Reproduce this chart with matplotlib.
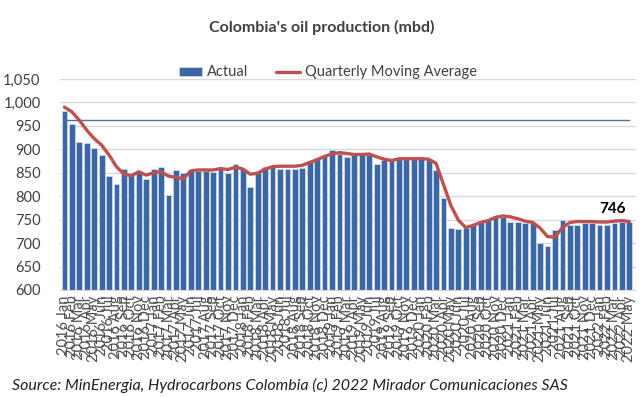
import matplotlib
matplotlib.use("Agg")
import matplotlib.pyplot as plt
from matplotlib.ticker import FuncFormatter

years = [2016, 2017, 2018, 2019, 2020, 2021, 2022]
month_names = ["Jan", "Feb", "Mar", "Apr", "May", "Jun", "Jul", "Aug", "Sep", "Oct", "Nov", "Dec"]
months = [f"{y} {m}" for y in years for m in month_names][:77]

actual = [982, 954, 915, 913, 903, 888, 843, 825, 858, 847, 851, 836,
          859, 862, 802, 855, 849, 856, 854, 853, 852, 861, 849, 869,
          857, 820, 854, 863, 863, 858, 859, 859, 861, 876, 881, 888,
          898, 891, 883, 888, 893, 888, 869, 877, 876, 879, 879, 879,
          879, 879, 856, 797, 732, 730, 732, 738, 748, 749, 758, 755,
          744, 744, 742, 742, 701, 693, 728, 749, 739, 739, 742, 742,
          739, 739, 742, 746, 744]

moving_avg = [990, 980, 962, 941, 923, 909, 888, 863, 847, 844, 852, 845,
              850, 852, 843, 840, 837, 854, 856, 856, 856, 859, 857, 862,
              858, 847, 849, 858, 863, 864, 864, 864, 866, 872, 878, 885,
              890, 893, 891, 889, 889, 890, 884, 879, 876, 880, 880, 880,
              880, 879, 870, 825, 780, 749, 733, 738, 744, 748, 755, 758,
              756, 752, 747, 744, 732, 714, 713, 733, 744, 746, 746, 746,
              745, 745, 747, 748, 746]

reference_level = 962
last_label = "746"

plt.rcParams['font.family'] = ['Lato', 'DejaVu Sans']

fig = plt.figure(figsize=(6.44, 3.97), dpi=100)
ax = fig.add_axes([60/644, 1 - 290/397, 576/644, 211/397])

x = list(range(len(actual)))
bar_color = "#3d67a2"
line_color = "#c0504d"

bars = ax.bar(x, [v - 600 for v in actual], bottom=600, width=0.78, color=bar_color,
              edgecolor="#c9d8ec", linewidth=0.6, label="Actual", zorder=2)
ax.plot(x, [reference_level] * len(x), color="#4a6fa5", linewidth=1.0, zorder=3)
line, = ax.plot(x, moving_avg, color=line_color, linewidth=2.4, label="Quarterly Moving Average",
                zorder=4, solid_capstyle="round")

ax.annotate(last_label, (x[-1], moving_avg[-1]), xytext=(-12, 4), textcoords="offset points",
            ha="center", va="bottom", fontsize=11, fontweight="bold", color="black")

ax.set_ylim(600, 1050)
ax.set_xlim(-0.6, 76.9)
ax.set_yticks(range(600, 1051, 50))
ax.yaxis.set_major_formatter(FuncFormatter(lambda v, p: f"{int(v):,}"))
ax.grid(axis="y", color="#d9d9d9", linewidth=1.0, zorder=0)
ax.set_axisbelow(True)
for s in ["left", "right", "top"]:
    ax.spines[s].set_visible(False)
ax.spines["bottom"].set_color("#d9d9d9")
ax.tick_params(axis="y", length=0, pad=14, labelsize=10.5, labelcolor="#404040")
ax.set_xticks(x)
ax.set_xticklabels(months, rotation=90, fontsize=10.5, color="#505050")
ax.tick_params(axis="x", length=0, pad=4)

fig.text(0.5, 1 - 27/397, "Colombia's oil production (mbd)", ha="center", va="center",
         fontsize=11.5, fontweight="bold", color="#404040")

ax.legend(handles=[bars, line], loc="lower center", bbox_to_anchor=(0.465, 0.97), ncol=2,
          frameon=False, fontsize=10.5, handlelength=1.6, columnspacing=1.9, borderaxespad=0,
          labelcolor="#404040", handletextpad=0.35, handleheight=0.6)

fig.text(12/644, 1 - 385/397, "Source: MinEnergia, Hydrocarbons Colombia (c) 2022 Mirador Comunicaciones SAS",
         ha="left", va="center", fontsize=11.5, fontstyle="italic", color="#222222")

fig.savefig("out.png", dpi=100)
